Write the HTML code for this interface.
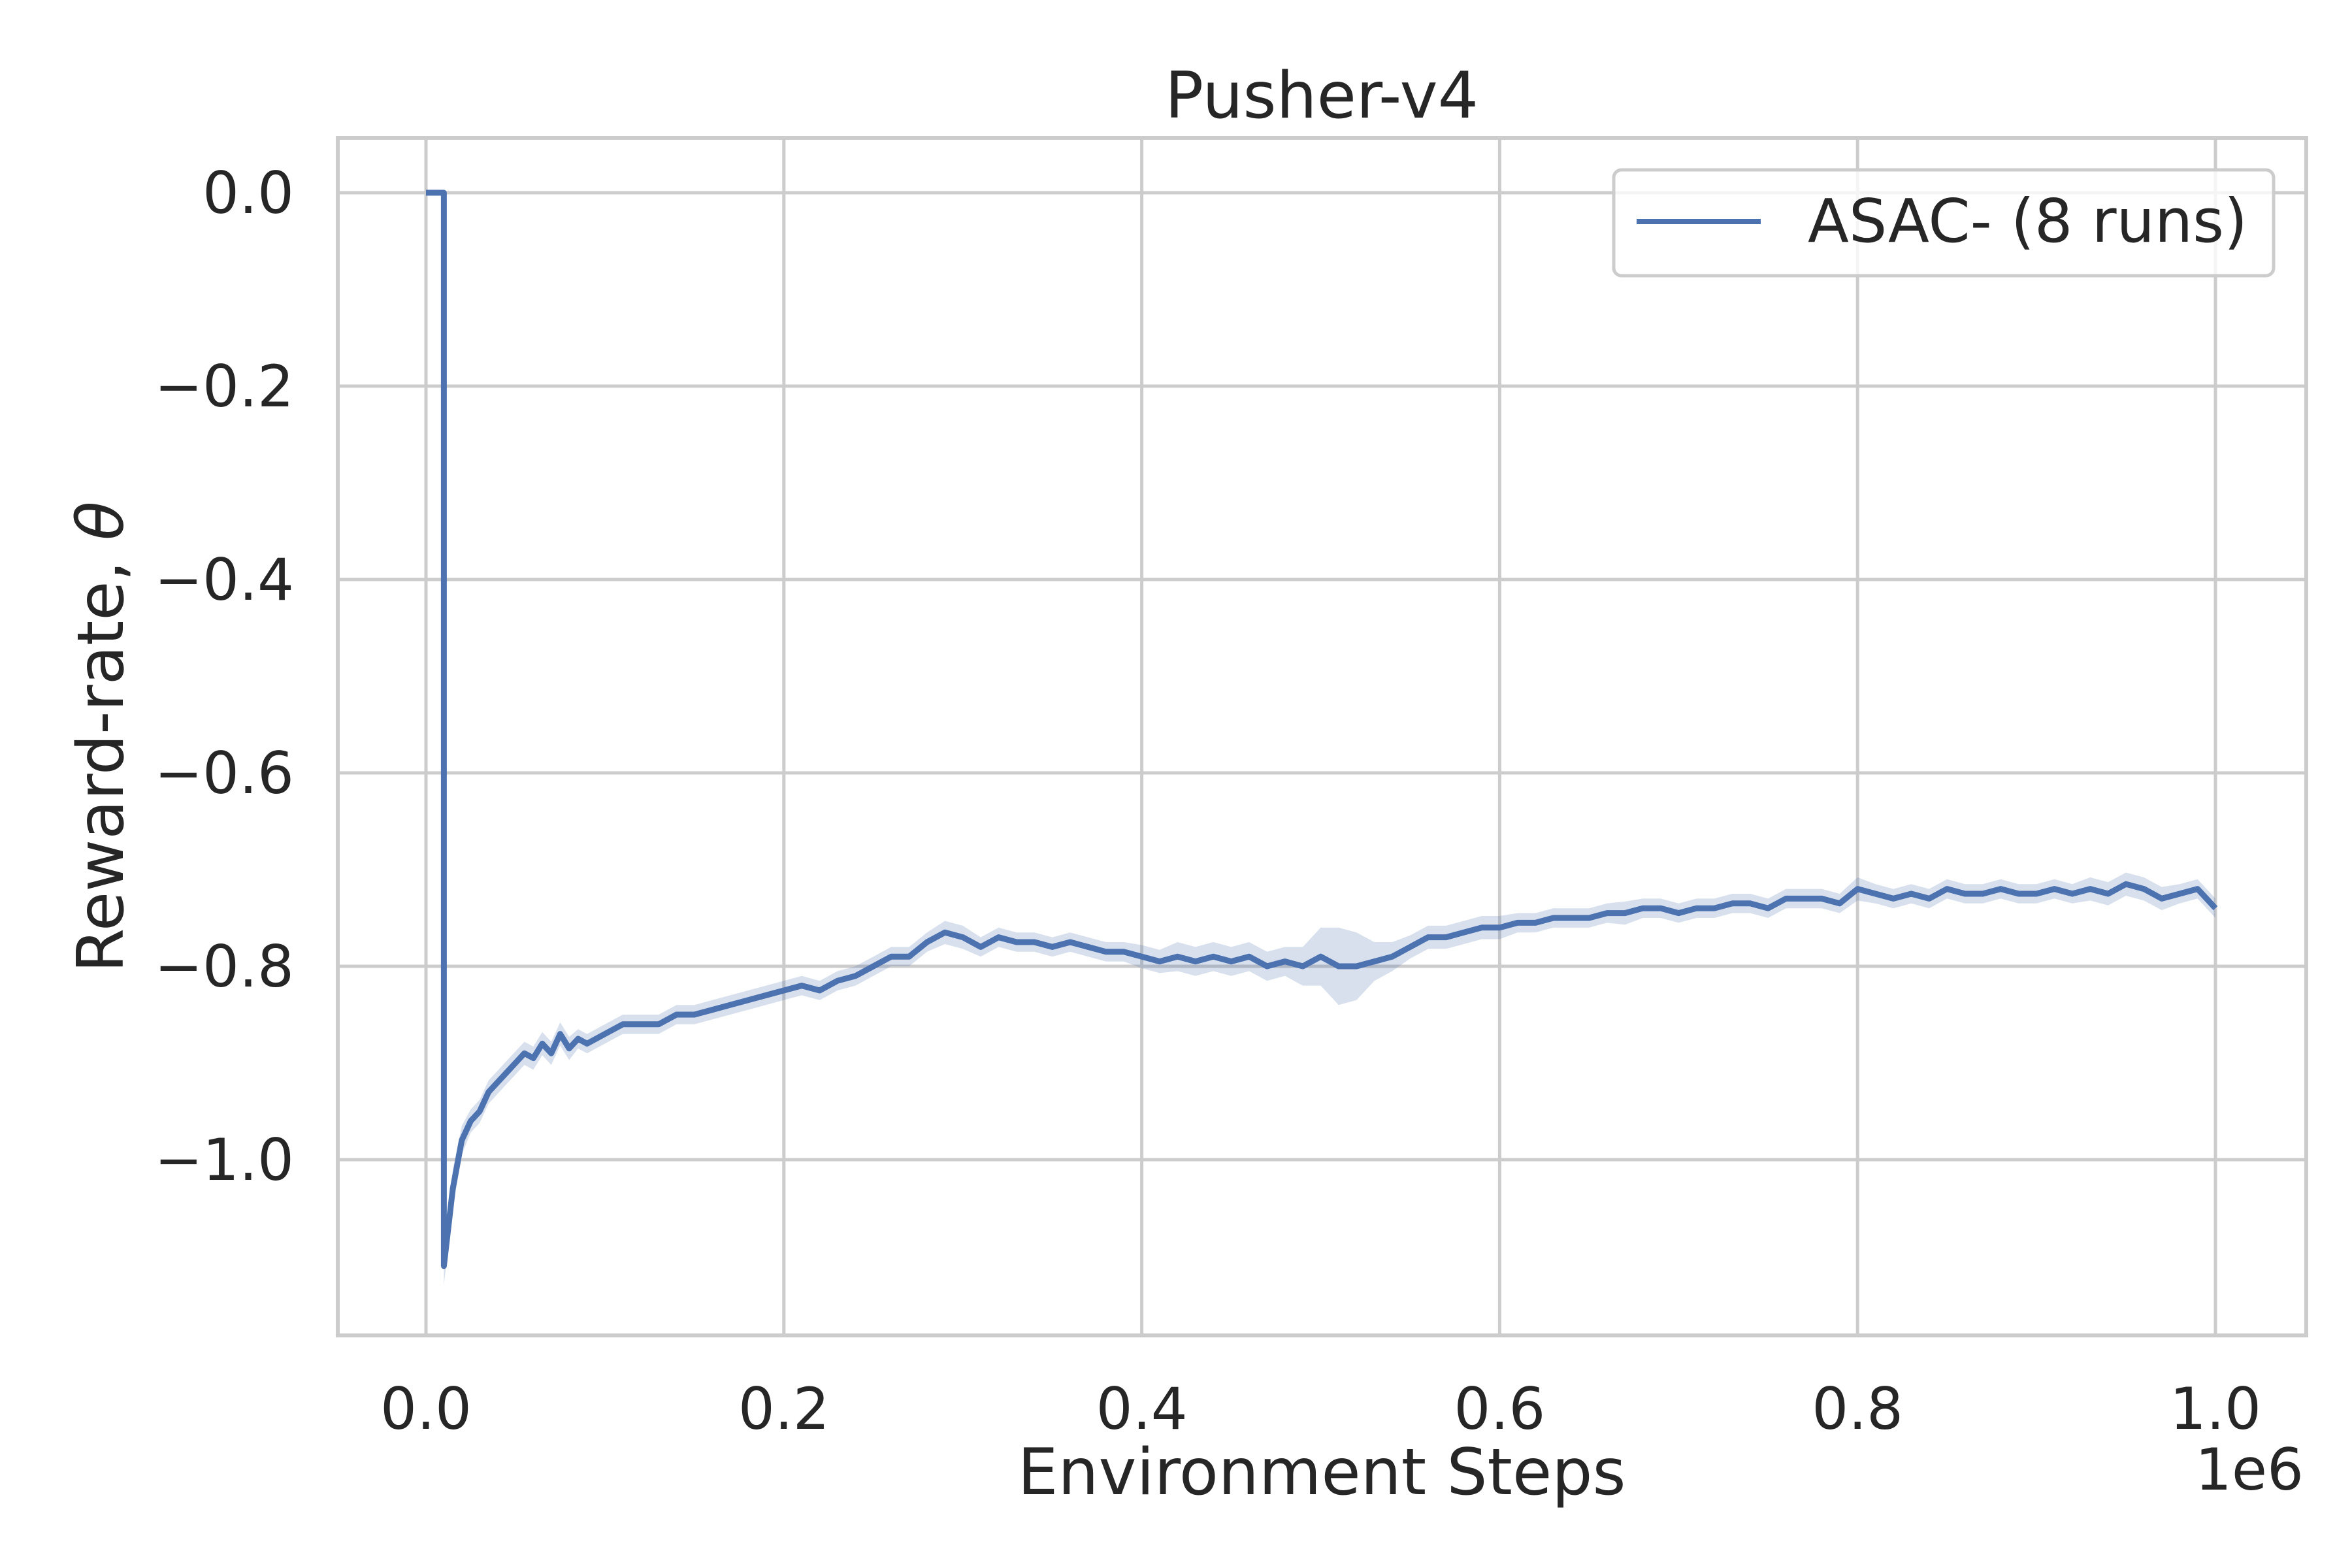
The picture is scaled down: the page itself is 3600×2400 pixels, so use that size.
<!DOCTYPE html>
<html><head><meta charset="utf-8"><style>
html,body{margin:0;padding:0;background:#fff;}
svg{display:block;font-family:"DejaVu Sans","Liberation Sans",sans-serif;}
</style></head><body>
<svg id="chart" width="3600" height="2400" viewBox="0 0 3600 2400" xmlns="http://www.w3.org/2000/svg">
<rect x="0" y="0" width="3600" height="2400" fill="#fff"/>
<g id="grid"></g>
<g id="band"></g>
<g id="series"></g>
<rect x="517" y="211" width="3013" height="1833" fill="none" stroke="#cccccc" stroke-width="6"/>
<g id="xticks"></g>
<g id="yticks"></g>
<text x="2023" y="180" font-size="98" text-anchor="middle" fill="#262626">Pusher-v4</text>
<text x="2023" y="2287" font-size="98" text-anchor="middle" fill="#262626">Environment Steps</text>
<text x="3526" y="2280" font-size="88" text-anchor="end" fill="#262626">1e6</text>
<text transform="translate(188,1128) rotate(-90)" font-size="98" text-anchor="middle" fill="#262626">Reward-rate, <tspan font-style="italic">θ</tspan></text>
<g>
<rect x="2470" y="260" width="1010" height="162" rx="12" fill="#fff" fill-opacity="0.8" stroke="#cccccc" stroke-width="5"/>
<line x1="2505" y1="339" x2="2695" y2="339" stroke="#4c72b0" stroke-width="8"/>
<text x="2767" y="370" font-size="92" fill="#262626">ASAC- (8 runs)</text>
</g>
</svg>
<script>
const xs = [0,0.01,0.01,0.015,0.02,0.025,0.03,0.035,0.04,0.045,0.05,0.055,0.06,0.065,0.07,0.075,0.08,0.085,0.09,0.10,0.11,0.12,0.13,0.14,0.15,0.16,0.17,0.18,0.19,0.20,0.21,0.22,0.23,0.24,0.25,0.26,0.27,0.28,0.29,0.30,0.31,0.32,0.33,0.34,0.35,0.36,0.37,0.38,0.39,0.40,0.41,0.42,0.43,0.44,0.45,0.46,0.47,0.48,0.49,0.50,0.51,0.52,0.53,0.54,0.55,0.56,0.57,0.58,0.59,0.60,0.61,0.62,0.63,0.64,0.65,0.66,0.67,0.68,0.69,0.70,0.71,0.72,0.73,0.74,0.75,0.76,0.77,0.78,0.79,0.80,0.81,0.82,0.83,0.84,0.85,0.86,0.87,0.88,0.89,0.90,0.91,0.92,0.93,0.94,0.95,0.96,0.97,0.98,0.99,1.00];
const ys = [0,0,-1.11,-1.03,-0.98,-0.96,-0.95,-0.93,-0.92,-0.91,-0.90,-0.89,-0.895,-0.88,-0.89,-0.87,-0.885,-0.875,-0.88,-0.87,-0.86,-0.86,-0.86,-0.85,-0.85,-0.845,-0.84,-0.835,-0.83,-0.825,-0.82,-0.825,-0.815,-0.81,-0.80,-0.79,-0.79,-0.775,-0.765,-0.77,-0.78,-0.77,-0.775,-0.775,-0.78,-0.775,-0.78,-0.785,-0.785,-0.79,-0.795,-0.79,-0.795,-0.79,-0.795,-0.79,-0.80,-0.795,-0.80,-0.79,-0.80,-0.80,-0.795,-0.79,-0.78,-0.77,-0.77,-0.765,-0.76,-0.76,-0.755,-0.755,-0.75,-0.75,-0.75,-0.745,-0.745,-0.74,-0.74,-0.745,-0.74,-0.74,-0.735,-0.735,-0.74,-0.73,-0.73,-0.73,-0.735,-0.72,-0.725,-0.73,-0.725,-0.73,-0.72,-0.725,-0.725,-0.72,-0.725,-0.725,-0.72,-0.725,-0.72,-0.725,-0.715,-0.72,-0.73,-0.725,-0.72,-0.74];
const spread = [0,0,0.02,0.02,0.015,0.012,0.012,0.012,0.012,0.012,0.012,0.012,0.012,0.012,0.012,0.012,0.012,0.01,0.01,0.01,0.01,0.01,0.01,0.01,0.01,0.01,0.01,0.01,0.01,0.01,0.01,0.01,0.01,0.01,0.01,0.01,0.01,0.01,0.012,0.012,0.01,0.01,0.01,0.01,0.01,0.01,0.01,0.01,0.01,0.012,0.012,0.015,0.015,0.015,0.015,0.015,0.015,0.015,0.02,0.03,0.04,0.035,0.02,0.015,0.012,0.012,0.012,0.012,0.012,0.012,0.01,0.01,0.01,0.01,0.01,0.01,0.012,0.01,0.01,0.01,0.01,0.01,0.01,0.01,0.01,0.01,0.01,0.01,0.01,0.012,0.01,0.01,0.01,0.01,0.01,0.01,0.01,0.01,0.01,0.01,0.01,0.01,0.012,0.012,0.012,0.012,0.012,0.01,0.01,0.01];
const xTicks = [0,0.2,0.4,0.6,0.8,1.0];
const xTickLabels = ["0.0","0.2","0.4","0.6","0.8","1.0"];
const yTicks = [0,-0.2,-0.4,-0.6,-0.8,-1.0];
const yTickLabels = ["0.0","\u22120.2","\u22120.4","\u22120.6","\u22120.8","\u22121.0"];

const NS = "http://www.w3.org/2000/svg";
const X = v => 652 + v * (3391 - 652);
const Y = v => 295 + (-v) * (1775 - 295);
function mk(tag, attrs, parent){ const e=document.createElementNS(NS,tag); for(const k in attrs) e.setAttribute(k,attrs[k]); parent.appendChild(e); return e; }
const grid=document.getElementById('grid'), xt=document.getElementById('xticks'), yt=document.getElementById('yticks');
xTicks.forEach((t,i)=>{
  const l=mk('line',{x1:X(t),x2:X(t),y1:211,y2:2044,stroke:'#cccccc','stroke-width':5},grid);
  
  
  const tx=mk('text',{x:X(t),y:2187,'font-size':88,'text-anchor':'middle',fill:'#262626'},xt);
  tx.textContent=xTickLabels[i];
  
  
});
yTicks.forEach((t,i)=>{
  const l=mk('line',{x1:517,x2:3530,y1:Y(t),y2:Y(t),stroke:'#cccccc','stroke-width':5},grid);
  
  
  const tx=mk('text',{x:450,y:Y(t)+31,'font-size':88,'text-anchor':'end',fill:'#262626'},yt);
  tx.textContent=yTickLabels[i];
  
  
});
let up=[],lo=[];
xs.forEach((x,i)=>{ up.push(X(x)+','+Y(ys[i]+spread[i])); lo.push(X(x)+','+Y(ys[i]-spread[i])); });
const band=mk('polygon',{points:up.concat(lo.reverse()).join(' '),fill:'#4c72b0','fill-opacity':0.22,stroke:'none'},document.getElementById('band'));


const line=mk('polyline',{points:xs.map((x,i)=>X(x)+','+Y(ys[i])).join(' '),fill:'none',stroke:'#4c72b0','stroke-width':9,'stroke-linejoin':'round'},document.getElementById('series'));


</script>
</body></html>
